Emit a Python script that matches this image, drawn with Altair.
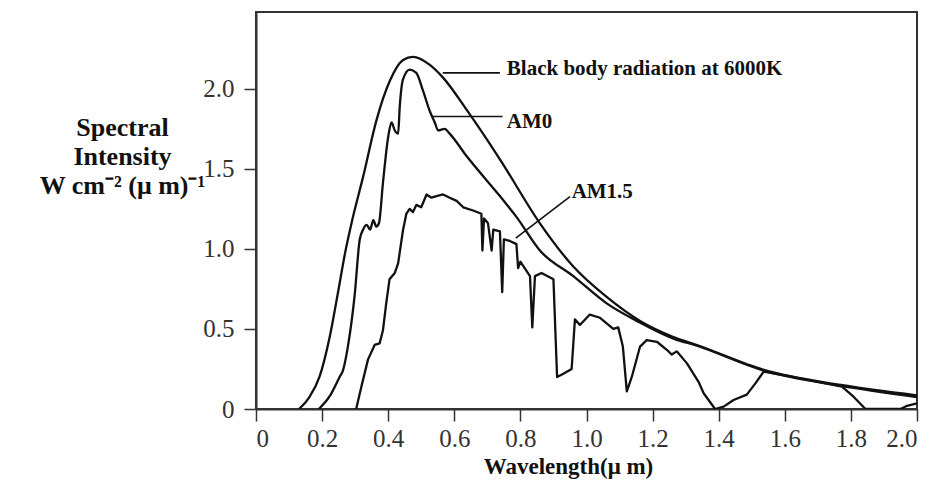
import altair as alt
import pandas as pd

# ---- data ----
bb_wl = [0.13, 0.16, 0.192, 0.223, 0.25, 0.27, 0.29, 0.324, 0.364, 0.405, 0.445, 0.475,
         0.526, 0.566, 0.637, 0.738, 0.859, 0.96, 1.061, 1.162, 1.263, 1.334, 1.536,
         1.77, 2.0]
bb_val = [0.0, 0.07, 0.20, 0.45, 0.75, 0.98, 1.17, 1.45, 1.80, 2.05, 2.18, 2.20,
          2.15, 2.07, 1.87, 1.56, 1.16, 0.89, 0.70, 0.55, 0.45, 0.40, 0.245,
          0.15, 0.085]

am0_wl = [0.19, 0.223, 0.253, 0.263, 0.278, 0.298, 0.314, 0.324, 0.335, 0.345, 0.355,
          0.364, 0.372, 0.384, 0.40, 0.41, 0.42, 0.43, 0.435, 0.445, 0.465, 0.485,
          0.505, 0.526, 0.541, 0.551, 0.571, 0.586, 0.637, 0.738, 0.788, 0.859, 0.96,
          1.061, 1.162, 1.263, 1.334, 1.536, 1.77, 2.0]
am0_val = [0.0, 0.08, 0.20, 0.24, 0.39, 0.70, 1.06, 1.12, 1.15, 1.12, 1.18,
           1.14, 1.16, 1.41, 1.70, 1.79, 1.74, 1.72, 1.89, 2.06, 2.12, 2.10,
           1.99, 1.86, 1.79, 1.74, 1.75, 1.72, 1.58, 1.33, 1.20, 0.99, 0.83,
           0.66, 0.54, 0.44, 0.395, 0.24, 0.145, 0.075]

am15_wl = [0.303, 0.319, 0.339, 0.359, 0.374, 0.384, 0.394, 0.404, 0.42, 0.43, 0.445,
           0.455, 0.465, 0.475, 0.485, 0.50, 0.516, 0.531, 0.546, 0.566, 0.586, 0.607,
           0.627, 0.657, 0.682, 0.685, 0.69, 0.702, 0.713, 0.718, 0.738, 0.745, 0.75,
           0.768, 0.788, 0.793, 0.80, 0.829, 0.836, 0.844, 0.864, 0.90, 0.911, 0.93,
           0.955, 0.965, 0.98, 1.01, 1.041, 1.081, 1.096, 1.11, 1.122, 1.137, 1.162,
           1.182, 1.213, 1.243, 1.258, 1.273, 1.304, 1.339, 1.354, 1.389, 1.415, 1.445,
           1.485, 1.511, 1.536, 1.6, 1.7, 1.773, 1.808, 1.844, 1.95, 1.97, 2.0]
am15_val = [0.0, 0.14, 0.31, 0.40, 0.41, 0.49, 0.66, 0.81, 0.85, 0.91, 1.12,
            1.22, 1.25, 1.23, 1.275, 1.26, 1.34, 1.32, 1.33, 1.34, 1.32, 1.30,
            1.26, 1.24, 1.22, 0.99, 1.19, 1.16, 0.99, 1.12, 1.11, 0.73, 1.06,
            1.05, 1.03, 0.88, 0.92, 0.83, 0.51, 0.83, 0.85, 0.81, 0.20, 0.22,
            0.25, 0.56, 0.525, 0.59, 0.57, 0.50, 0.51, 0.39, 0.11, 0.20, 0.39,
            0.43, 0.42, 0.37, 0.34, 0.36, 0.285, 0.17, 0.10, 0.0, 0.015, 0.056,
            0.09, 0.16, 0.233, 0.21, 0.17, 0.14, 0.077, 0.0, 0.0, 0.02, 0.035]

label_text = ["Black body radiation at 6000K", "AM0", "AM1.5"]
label_wl = [0.759, 0.759, 0.955]
label_val = [2.087, 1.754, 1.317]

leader_wl = [0.565, 0.535, 0.786]
leader_wl2 = [0.738, 0.746, 0.95]
leader_val = [2.10, 1.827, 1.067]
leader_val2 = [2.10, 1.827, 1.327]

x_ticks = [0, 0.2, 0.4, 0.6, 0.8, 1.0, 1.2, 1.4, 1.6, 1.8, 2.0]
y_ticks = [0, 0.5, 1.0, 1.5, 2.0]

# ---- tables ----
def table(series_list):
    rows = []
    for name, wl, val in series_list:
        for i, (w, v) in enumerate(zip(wl, val)):
            rows.append({"series": name, "wl": w, "val": v, "order": i})
    return pd.DataFrame(rows)

smooth_df = table([("Black body", bb_wl, bb_val), ("AM0", am0_wl, am0_val)])
rough_df = table([("AM1.5", am15_wl, am15_val)])

labels = pd.DataFrame({"label": label_text, "wl": label_wl, "val": label_val})
leaders = pd.DataFrame({"wl": leader_wl, "wl2": leader_wl2,
                        "val": leader_val, "val2": leader_val2})

x_scale = alt.Scale(domain=[0, 2.0], nice=False, zero=False)
y_scale = alt.Scale(domain=[0, 2.48], nice=False)

tick_expr = "datum.value == 0 ? '0' : format(datum.value, '.1f')"

x_axis = alt.Axis(values=x_ticks, labelExpr=tick_expr, title="Wavelength(μ m)",
                  grid=False, tickSize=12, labelPadding=5, labelFontSize=25,
                  titleFontSize=23, titleFontWeight="bold", titleX=312, titleY=64,
                  titleBaseline="alphabetic", titleAlign="center")
y_axis = alt.Axis(values=y_ticks, labelExpr=tick_expr,
                  title=["Spectral", "Intensity", "W cm⁻² (μ m)⁻¹"],
                  grid=False, tickSize=12, labelPadding=10, labelFontSize=25,
                  titleFontSize=26, titleFontWeight="bold", titleAngle=0,
                  titleAlign="center", titleBaseline="alphabetic",
                  titleX=-134, titleY=123, titleLineHeight=29)

smooth = alt.Chart(smooth_df).mark_line(color="#111111", strokeWidth=2.3,
                                        strokeJoin="round", interpolate="monotone",
                                        clip=True).encode(
    x=alt.X("wl:Q", scale=x_scale, axis=x_axis),
    y=alt.Y("val:Q", scale=y_scale, axis=y_axis),
    detail="series:N",
    order="order:Q",
)

rough = alt.Chart(rough_df).mark_line(color="#111111", strokeWidth=2.3,
                                      strokeJoin="round", clip=True).encode(
    x=alt.X("wl:Q", scale=x_scale),
    y=alt.Y("val:Q", scale=y_scale),
    detail="series:N",
    order="order:Q",
)

rules = alt.Chart(leaders).mark_rule(color="#111111", strokeWidth=1.6).encode(
    x=alt.X("wl:Q", scale=x_scale),
    x2="wl2:Q",
    y=alt.Y("val:Q", scale=y_scale),
    y2="val2:Q",
)

texts = alt.Chart(labels).mark_text(align="left", baseline="alphabetic",
                                    font="Liberation Serif", fontSize=21,
                                    fontWeight="bold", color="#111111").encode(
    x=alt.X("wl:Q", scale=x_scale),
    y=alt.Y("val:Q", scale=y_scale),
    text="label:N",
)

chart = alt.layer(smooth, rough, rules, texts).properties(
    width=661, height=397,
    autosize=alt.AutoSizeParams(type="none"),
    padding={"left": 256, "top": 12, "right": 19, "bottom": 79},
    background="white",
).configure_view(
    stroke="#333333", strokeWidth=2,
).configure_axis(
    domainColor="#333333", domainWidth=2, tickColor="#333333", tickWidth=1.5,
    labelFont="Liberation Serif", labelColor="#333333",
    titleFont="Liberation Serif", titleColor="#111111",
)

chart.save("out.html", embed_options={"renderer": "svg", "actions": False})
